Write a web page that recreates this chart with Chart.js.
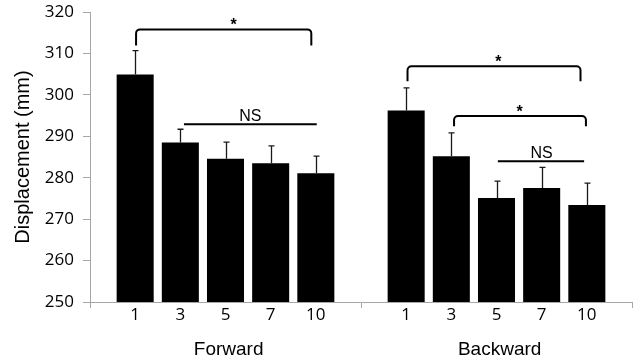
<!DOCTYPE html>
<html>
<head>
<meta charset="utf-8">
<script src="https://cdn.jsdelivr.net/npm/chart.js@4.4.1/dist/chart.umd.min.js"></script>
<style>
  html, body { margin: 0; padding: 0; background: #ffffff; }
  #wrap { width: 640px; height: 362px; }
</style>
</head>
<body>
<div id="wrap"><canvas id="c" width="640" height="362"></canvas></div>
<script>
// ---- data ----
const groups = ['Forward', 'Backward'];
const repetitions = ['1', '3', '5', '7', '10'];
const forwardMeans = [304.9, 288.5, 284.6, 283.5, 281.1];
const forwardErrors = [5.8, 3.2, 4.0, 4.2, 4.1];
const backwardMeans = [296.2, 285.2, 275.1, 277.5, 273.4];
const backwardErrors = [5.5, 5.6, 4.1, 5.0, 5.3];
const yMin = 250, yMax = 320, yStep = 10;
const yTitle = 'Displacement (mm)';

// significance annotations: category-slot positions, y levels (mm)
const bracketFrom   = [1.02, 7.03, 8.06];
const bracketTo     = [4.90, 10.86, 10.98];
const bracketTop    = [315.8, 306.9, 294.9];
const bracketFoot   = [311.9, 303.3, 292.4];
const bracketLabel  = ['*', '*', '*'];
const bracketLabelAt= [3.18, 9.04, 9.51];
const nsFrom  = [2.08, 9.03];
const nsTo    = [5.02, 10.94];
const nsLevel = [292.9, 284.0];
const nsLabel = ['NS', 'NS'];
const nsLabelAt = [3.55, 10.0];

// ---- build category axis: blank slot at start, between groups and at end ----
const labels = [''].concat(repetitions, [''], repetitions, ['']);
const means = [null].concat(forwardMeans, [null], backwardMeans, [null]);
const errors = [null].concat(forwardErrors, [null], backwardErrors, [null]);
const groupCentre = [3.07, 9.07];
const boundaryIdx = [0, 6, 12];

const axisGray = '#a6a6a6';
const tickFont = { family: 'Open Sans', size: 17 };

const annotate = {
  id: 'annotate',
  afterDatasetsDraw(chart) {
    const ctx = chart.ctx;
    const xs = chart.scales.x, ys = chart.scales.y;
    const meta = chart.getDatasetMeta(0);
    ctx.save();
    // error bars (upper only)
    ctx.strokeStyle = '#1a1a1a';
    ctx.lineWidth = 1.3;
    meta.data.forEach((bar, i) => {
      if (means[i] == null) return;
      const x = Math.round(bar.x) + 0.5;
      const yTop = ys.getPixelForValue(means[i] + errors[i]);
      const yBar = ys.getPixelForValue(means[i]);
      ctx.beginPath();
      ctx.moveTo(x, yBar);
      ctx.lineTo(x, yTop);
      ctx.moveTo(x - 3, yTop);
      ctx.lineTo(x + 3, yTop);
      ctx.stroke();
    });
    // brackets
    ctx.strokeStyle = '#000';
    ctx.lineWidth = 2;
    ctx.lineJoin = 'round';
    ctx.fillStyle = '#000';
    bracketFrom.forEach((f, i) => {
      const x1 = xs.getPixelForValue(f), x2 = xs.getPixelForValue(bracketTo[i]);
      const yt = ys.getPixelForValue(bracketTop[i]), yf = ys.getPixelForValue(bracketFoot[i]);
      const r = 4;
      ctx.beginPath();
      ctx.moveTo(x1, yf);
      ctx.arcTo(x1, yt, x1 + r, yt, r);
      ctx.arcTo(x2, yt, x2, yt + r, r);
      ctx.lineTo(x2, yf);
      ctx.stroke();
      ctx.font = 'bold 16px "Liberation Sans"';
      ctx.textAlign = 'center';
      ctx.textBaseline = 'alphabetic';
      ctx.fillText(bracketLabel[i], xs.getPixelForValue(bracketLabelAt[i]), yt + 1);
    });
    // NS lines
    nsFrom.forEach((f, i) => {
      const x1 = xs.getPixelForValue(f), x2 = xs.getPixelForValue(nsTo[i]);
      const y = ys.getPixelForValue(nsLevel[i]);
      ctx.beginPath();
      ctx.moveTo(x1, y);
      ctx.lineTo(x2, y);
      ctx.stroke();
      ctx.font = '16px "Liberation Sans"';
      ctx.textAlign = 'center';
      ctx.textBaseline = 'alphabetic';
      ctx.fillText(nsLabel[i], xs.getPixelForValue(nsLabelAt[i]), y - 3);
    });
    ctx.restore();
  },
  afterDraw(chart) {
    const ctx = chart.ctx;
    const xs = chart.scales.x;
    ctx.save();
    ctx.font = '19px "Liberation Sans"';
    ctx.fillStyle = '#000';
    ctx.textAlign = 'center';
    ctx.textBaseline = 'middle';
    groups.forEach((g, i) => {
      ctx.fillText(g, xs.getPixelForValue(groupCentre[i]), xs.bottom - 12);
    });
    ctx.restore();
  }
};

new Chart(document.getElementById('c'), {
  type: 'bar',
  data: {
    labels: labels,
    datasets: [{
      data: means,
      backgroundColor: '#000000',
      borderWidth: 0,
      categoryPercentage: 1.0,
      barPercentage: 0.82
    }]
  },
  options: {
    responsive: false,
    animation: false,
    devicePixelRatio: 1,
    layout: { padding: { top: 12, right: 8, left: 0, bottom: 0 } },
    plugins: { legend: { display: false }, tooltip: { enabled: false } },
    scales: {
      x: {
        type: 'category',
        offset: false,
        grid: {
          offset: false,
          drawOnChartArea: false,
          tickLength: 6,
          lineWidth: 1,
          color: (c) => boundaryIdx.includes(c.index) ? axisGray : 'rgba(0,0,0,0)'
        },
        border: { color: axisGray, width: 1 },
        ticks: { autoSkip: false, maxRotation: 0, minRotation: 0, color: '#000', font: tickFont, padding: -3 },
        afterFit: (s) => { s.height = 60; s.paddingLeft = 0; s.paddingRight = 0; }
      },
      y: {
        min: yMin,
        max: yMax,
        grid: { drawOnChartArea: false, tickLength: 7, color: axisGray },
        border: { color: axisGray, width: 1 },
        ticks: { stepSize: yStep, color: '#000', font: tickFont, padding: 9 },
        title: { display: true, text: yTitle, color: '#000', font: { family: 'Liberation Sans', size: 20 }, padding: { top: 11, bottom: 0 } },
        afterFit: (s) => { s.width = 90; s.paddingTop = 0; s.paddingBottom = 0; }
      }
    }
  },
  plugins: [annotate]
});
</script>
</body>
</html>
